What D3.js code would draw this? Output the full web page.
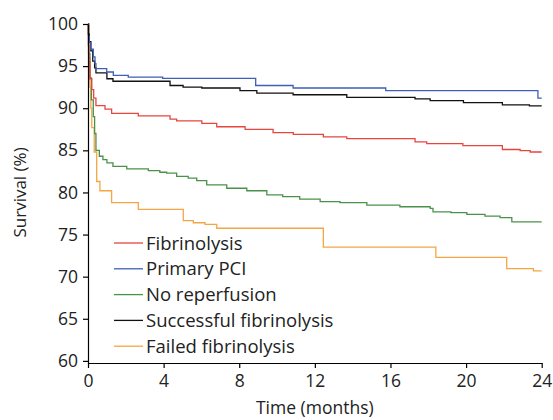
<!DOCTYPE html>
<html>
<head>
<meta charset="utf-8">
<script src="https://cdn.jsdelivr.net/npm/d3@7"></script>
<style>
  body { margin: 0; background: #fff; }
  svg { font-family: "Open Sans", sans-serif; }
</style>
</head>
<body>
<svg id="chart" width="553" height="420"></svg>
<script>
var width = 553;
var height = 420;

// survival steps: [month, percent]
var fibrinolysis = [[0,100],[0.02,97.5],[0.05,95.5],[0.1,93.5],[0.2,92.2],[0.3,91.2],[0.42,90.3],[0.9,89.9],[1.25,89.4],[2.66,89.1],[4.34,88.7],[4.69,88.5],[6.02,88.2],[6.81,87.8],[8.31,87.5],[9.79,87.1],[10.86,86.9],[12.45,86.6],[13.69,86.4],[17.3,86.0],[17.92,85.8],[19.83,85.55],[21.92,85.1],[22.86,84.96],[23.39,84.8],[24,84.8]];
var primaryPci = [[0,100],[0.03,98.6],[0.07,97.8],[0.15,97.0],[0.28,96.1],[0.37,95.3],[0.42,94.7],[0.99,94.3],[1.34,93.9],[2.13,93.7],[3.95,93.55],[8.87,92.7],[10.85,92.4],[15.75,92.1],[23.8,91.2],[24,91.2]];
var noReperfusion = [[0,100],[0.03,96.5],[0.1,93.6],[0.18,91],[0.28,89],[0.35,87],[0.42,85.0],[0.6,84.3],[0.79,83.9],[1.0,83.5],[1.32,83.1],[2.05,82.8],[3.19,82.6],[3.8,82.4],[4.16,82.3],[4.69,81.9],[5.3,81.7],[5.75,81.4],[6.28,80.9],[7.34,80.5],[8.4,80.2],[9.46,79.7],[10.3,79.5],[11.2,79.2],[12.28,78.9],[13.33,78.8],[14.75,78.5],[16.5,78.3],[18.1,78.1],[18.25,77.7],[19.2,77.6],[20.04,77.4],[21.0,77.2],[21.8,77.0],[22.42,76.5],[24,76.5]];
var successfulFib = [[0,100],[0.02,98.8],[0.07,97.9],[0.15,96.8],[0.25,95.6],[0.35,94.8],[0.42,94.2],[1.0,93.5],[1.32,93.2],[4.34,92.7],[5.03,92.5],[6.02,92.4],[8.04,92.1],[8.93,91.8],[10.85,91.6],[13.69,91.3],[17.3,91.1],[18.1,90.9],[19.86,90.66],[21.92,90.4],[23.35,90.27],[24,90.27]];
var failedFib = [[0,100],[0.05,96],[0.1,92.5],[0.15,90],[0.2,87.7],[0.33,84.8],[0.46,81.3],[0.63,80.2],[1.25,78.8],[2.66,78.0],[5.04,76.65],[5.57,76.4],[6.19,76.2],[6.81,75.75],[12.45,73.5],[18.4,72.3],[22.15,70.95],[23.56,70.7],[24,70.7]];

var seriesNames = ["Fibrinolysis", "Primary PCI", "No reperfusion", "Successful fibrinolysis", "Failed fibrinolysis"];
var seriesData = [fibrinolysis, primaryPci, noReperfusion, successfulFib, failedFib];
var colors = ["#e8453f", "#3f5fb5", "#4a924a", "#111111", "#f6a545"];

var xTicks = [0, 4, 8, 12, 16, 20, 24];
var yTicks = [60, 65, 70, 75, 80, 85, 90, 95, 100];

var svg = d3.select("#chart");

var x = d3.scaleLinear().domain([0, 24]).range([88, 541.7]);
var y = d3.scaleLinear().domain([59.75, 100]).range([363, 24]);

var line = d3.line()
  .x(function(d) { return x(d[0]); })
  .y(function(d) { return y(d[1]); })
  .curve(d3.curveStepAfter);

// draw back to front so blue/black sit on top like the original
var order = [4, 2, 0, 3, 1];
order.forEach(function(i) {
  svg.append("path")
    .datum(seriesData[i])
    .attr("fill", "none")
    .attr("stroke", colors[i])
    .attr("stroke-width", 1.3)
    .attr("d", line);
});

var yAxis = d3.axisLeft(y).tickValues(yTicks).tickSize(5).tickSizeOuter(0).tickPadding(5);
var gy = svg.append("g")
  .attr("transform", "translate(" + x(0) + ",0)")
  .call(yAxis);

var xAxis = d3.axisBottom(x).tickValues(xTicks).tickSize(5).tickSizeOuter(0).tickPadding(7);
var gx = svg.append("g")
  .attr("transform", "translate(0," + y(59.75) + ")")
  .call(xAxis);

[gx, gy].forEach(function(g) {
  g.select(".domain").attr("stroke", "#000").attr("stroke-width", 1.2);
  g.selectAll(".tick line").attr("stroke", "#000").attr("stroke-width", 1.2);
  g.selectAll(".tick text")
    .attr("fill", "#222")
    .style("font-family", "'Open Sans', sans-serif")
    .style("font-size", "17.5px");
});

svg.append("text")
  .attr("transform", "translate(26," + ((y(100) + y(60)) / 2) + ") rotate(-90)")
  .attr("text-anchor", "middle")
  .attr("fill", "#222")
  .style("font-size", "17px")
  .text("Survival (%)");

svg.append("text")
  .attr("x", (x(0) + x(24)) / 2)
  .attr("y", 414)
  .attr("text-anchor", "middle")
  .attr("fill", "#222")
  .style("font-size", "17.5px")
  .text("Time (months)");

// legend
var legend = svg.append("g").attr("transform", "translate(114,243)");
seriesNames.forEach(function(name, i) {
  var row = legend.append("g").attr("transform", "translate(0," + (i * 25.8) + ")");
  row.append("line")
    .attr("x1", 0).attr("x2", 29)
    .attr("stroke", colors[i])
    .attr("stroke-width", 1.3);
  row.append("text")
    .attr("x", 32)
    .attr("dy", "0.36em")
    .attr("fill", "#222")
    .style("font-size", "18.5px")
    .text(name);
});
</script>
</body>
</html>
